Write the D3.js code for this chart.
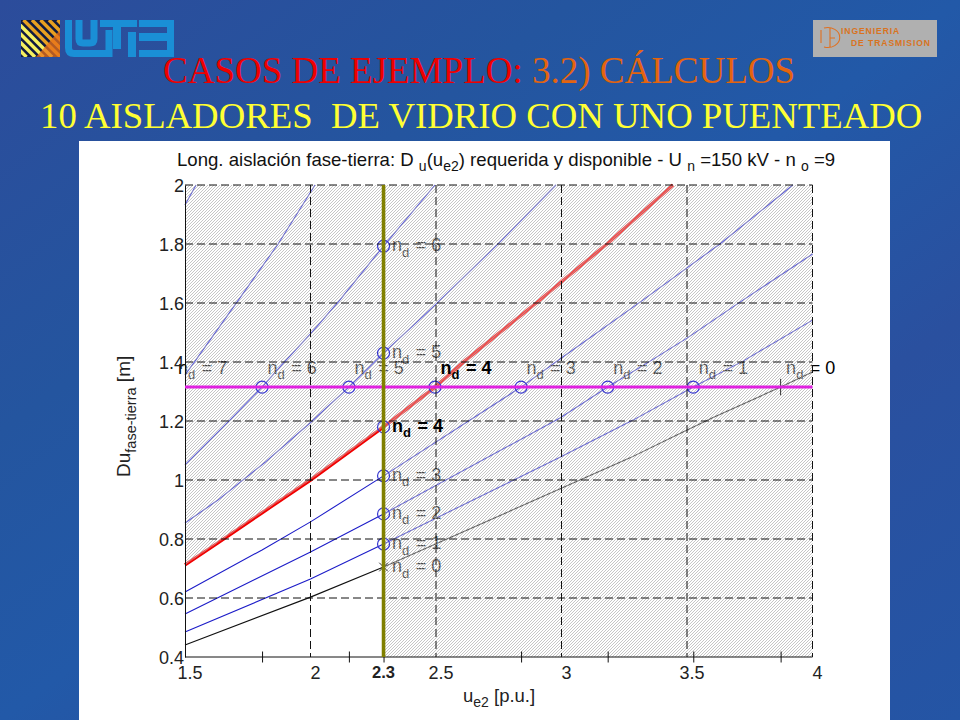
<!DOCTYPE html>
<html><head><meta charset="utf-8">
<script src="https://cdn.jsdelivr.net/npm/d3@7"></script>
<style>html,body{margin:0;padding:0;background:#26529f}svg{display:block}text{font-family:"Liberation Sans",Arial,sans-serif}</style>
</head><body><script>
const nd0=[[1.5,.441],[2,.603],[2.291,.705],[3.273,1.075],[3.484,1.163],[3.604,1.212],[3.873,1.315],[4,1.366]];
const nd1=[[1.5,.485],[2,.664],[2.291,.783],[2.996,1.078],[3.285,1.203],[3.525,1.315],[3.723,1.403],[4,1.542]];
const nd2=[[1.5,.546],[2,.756],[2.291,.885],[2.994,1.21],[3.184,1.315],[3.353,1.403],[3.5,1.481],[3.711,1.603],[4,1.766]];
const nd3=[[1.5,.62],[1.807,.763],[2,.858],[2.291,1.014],[2.839,1.315],[2.994,1.41],[3.313,1.603],[3.5,1.719],[3.631,1.8],[3.922,2]];
const nd4=[[1.5,.712],[1.631,.787],[1.807,.889],[2,1],[2.291,1.18],[2.496,1.315],[2.614,1.403],[2.914,1.61],[2.994,1.668],[3.181,1.8],[3.444,2]];
const nd5=[[1.5,.854],[1.631,.932],[1.819,1.06],[2,1.195],[2.153,1.315],[2.291,1.43],[2.496,1.593],[2.743,1.797],[2.978,2]];
const nd6=[[1.5,1.051],[1.679,1.203],[1.807,1.315],[1.899,1.403],[2,1.495],[2.11,1.603],[2.291,1.793],[2.496,2]];
const nd7=[[1.5,1.356],[1.54,1.403],[1.707,1.603],[1.871,1.8],[2.018,2]];
const nd8=[[1.5,1.932],[1.544,2]];
const blueCurves=[nd1,nd2,nd3,nd5,nd6,nd7,nd8];
const xTicks=[1.5,2,2.5,3,3.5,4];
const yTicks=[.4,.6,.8,1,1.2,1.4,1.6,1.8,2];
const crossTicks=[1.807,2.153,2.291,2.839,3.184,3.525,3.873];
const available=1.315, selectedU=2.291, selectedLabel="2.3";
const rowN=[7,6,5,4,3,2,1,0];
const rowU=[1.45,1.807,2.153,2.496,2.839,3.184,3.525,3.873];
const colN=[6,5,4,3,2,1,0];
const colV=[1.793,1.43,1.18,1.014,.885,.783,.705];

const W=960,H=720;
const svg=d3.select("body").append("svg").attr("width",W).attr("height",H);
const defs=svg.append("defs");
const bg=defs.append("linearGradient").attr("id","bg").attr("x1",0).attr("y1",0).attr("x2",1).attr("y2",1);
[[0,"#2c4c9b"],[.3,"#24559f"],[.5,"#2259a8"],[.72,"#2a509f"],[1,"#2455a5"]].forEach(d=>bg.append("stop").attr("offset",d[0]).attr("stop-color",d[1]));
const ha=defs.append("pattern").attr("id","hatch").attr("patternUnits","userSpaceOnUse").attr("width",3).attr("height",3);
ha.append("rect").attr("width",3).attr("height",3).attr("fill","rgba(255,255,255,.3)");
ha.append("path").attr("d","M-1 4L4 -1M-1 1L1 -1M2 4L4 2").attr("stroke","#a2a2a2").attr("stroke-width",.62).attr("fill","none");
svg.append("rect").attr("width",W).attr("height",H).attr("fill","url(#bg)");

// heading
const h1=svg.append("text").attr("x",163).attr("y",83).attr("font-size",37).attr("style","font-family:'Liberation Serif',serif");
h1.append("tspan").attr("fill","#ee0000").text("CASOS DE EJEMPLO:");
h1.append("tspan").attr("fill","#e4640f").text(" 3.2) CÁLCULOS");
svg.append("text").attr("x",40).attr("y",128).attr("font-size",36.75).attr("fill","#ffff33").attr("style","font-family:'Liberation Serif',serif;white-space:pre").text("10 AISLADORES  DE VIDRIO CON UNO PUENTEADO");

// UTE logo
defs.append("clipPath").attr("id","lg").append("rect").attr("x",21).attr("y",20).attr("width",39).attr("height",37);
const lg=svg.append("g").attr("clip-path","url(#lg)");
lg.append("rect").attr("x",21).attr("y",20).attr("width",39).attr("height",37).attr("fill","#101a40");
d3.range(-40,50,8.5).forEach(o=>lg.append("line").attr("x1",21+o).attr("y1",20).attr("x2",21+o+37).attr("y2",57).attr("stroke",o>-5?"#e8a020":"#f5f060").attr("stroke-width",3.4));
lg.append("path").attr("d","M60 30L60 57L36 57Z").attr("fill","#e8701a").attr("opacity",.75);
const blue="#1a8fd6";
const logo=svg.append("g");
logo.append("path").attr("d","M68.5 20V48q0 5.5 5.5 5.5H109V30").attr("fill","none").attr("stroke",blue).attr("stroke-width",7);
logo.append("path").attr("d","M79 20V39q0 4 4 4h7q4 0 4-4V20").attr("fill","none").attr("stroke",blue).attr("stroke-width",7);
[[100,20,37,7],[113,20,8,29],[128,32,8,25],[139,20,35,7],[139,33,35,8],[139,50,35,7],[167,20,7,37]].forEach(r=>logo.append("rect").attr("x",r[0]).attr("y",r[1]).attr("width",r[2]).attr("height",r[3]).attr("fill",blue));

// ID logo
svg.append("rect").attr("x",813).attr("y",20).attr("width",124).attr("height",37).attr("fill","#b0b0b0");
svg.append("path").attr("d","M824 28a12 10 0 1 1 0 19M830 28v19M830 38h5M821 30v13").attr("fill","none").attr("stroke","#e07020").attr("stroke-width",1.1);
svg.append("text").attr("x",841).attr("y",34).attr("font-size",8.6).attr("font-weight","bold").attr("fill","#d9731e").attr("letter-spacing",.9).text("INGENIERIA");
svg.append("text").attr("x",851).attr("y",46).attr("font-size",8.6).attr("font-weight","bold").attr("fill","#d9731e").attr("letter-spacing",.9).text("DE TRASMISION");

// white panel
svg.append("rect").attr("x",79).attr("y",141).attr("width",811).attr("height",579).attr("fill","#fff");

const x=d3.scaleLinear().domain([1.5,4]).range([185,812.5]);
const y=d3.scaleLinear().domain([.4,2]).range([657,185]);
const line=d3.line().x(d=>x(d[0])).y(d=>y(d[1]));

function nLabel(g,px,py,n,bold,fill){
  const t=g.append("text").attr("x",px).attr("y",py).attr("font-size",18).attr("fill",fill||"#000").attr("font-weight",bold?"bold":null).attr("style","white-space:pre");
  t.append("tspan").text("n");
  t.append("tspan").attr("font-size",13).attr("dy",5.5).text("d");
  t.append("tspan").attr("dy",-5.5).attr("dx",1.5).text(" = "+n);
}
// curves and labels under the hatch
const under=svg.append("g");
blueCurves.forEach(c=>under.append("path").attr("d",line(c)).attr("fill","none").attr("stroke","#1c1cc8").attr("stroke-width",1.1));
under.append("path").attr("d",line(nd0)).attr("fill","none").attr("stroke","#111").attr("stroke-width",1.1);
under.append("path").attr("d",line(nd4)).attr("fill","none").attr("stroke","#f00000").attr("stroke-width",3.4);
rowN.forEach((n,i)=>{ if(n!==4) nLabel(under,x(rowU[i])+5.5,y(available)-13.5,n,false); });
colN.forEach((n,i)=>{ if(n!==4) nLabel(under,x(selectedU)+8.5,y(colV[i])+5,n,false); });

// hatched zone: all of the plot outside the feasible corner under the nd=4 curve
const boundary=nd4.filter(d=>d[0]<=selectedU);
const corner=[[1.5,2],...boundary,[selectedU,.4],[4,.4],[4,2]];
svg.append("path").attr("d",line(corner)+"Z").attr("fill","url(#hatch)");

// circles, and the small marks of the nd=0 curve
const mk=svg.append("g").attr("fill","none").attr("stroke","#3838d0").attr("stroke-width",1.2);
rowU.forEach((u,i)=>{ if(rowN[i]>0 && rowN[i]<7) mk.append("circle").attr("cx",x(u)).attr("cy",y(available)).attr("r",6);});
colV.forEach((v,i)=>{ if(colN[i]>0) mk.append("circle").attr("cx",x(selectedU)).attr("cy",y(v)).attr("r",6);});
const sy=svg.append("g").attr("fill","none").attr("stroke","#333").attr("stroke-width",1);
sy.append("path").attr("d",d3.symbol(d3.symbolTimes,50)()).attr("transform",`translate(${x(selectedU)},${y(colV[6])})`);
sy.append("path").attr("d",d3.symbol(d3.symbolPlus,90)()).attr("fill","none").attr("transform",`translate(${x(rowU[7])},${y(available)})`);

// grid
const grid=svg.append("g").attr("stroke","#111").attr("stroke-width",1).attr("stroke-dasharray","8 4").attr("fill","none");
xTicks.slice(1).forEach(t=>grid.append("line").attr("x1",x(t)).attr("x2",x(t)).attr("y1",y(2)).attr("y2",y(.4)));
yTicks.slice(1).forEach(t=>grid.append("line").attr("x1",x(1.5)).attr("x2",x(4)).attr("y1",y(t)).attr("y2",y(t)));

// bold labels, on top
rowN.forEach((n,i)=>{ if(n===4) nLabel(svg,x(rowU[i])+5.5,y(available)-13.5,n,true,"#000"); });
colN.forEach((n,i)=>{ if(n===4) nLabel(svg,x(selectedU)+8.5,y(colV[i])+5,n,true,"#000"); });

// axes
const axG=svg.append("g").attr("transform",`translate(0,${y(.4)})`).call(d3.axisBottom(x).tickValues(crossTicks).tickSize(5.5).tickFormat(""));
axG.selectAll(".tick line").attr("y1",-5.5).attr("stroke","#111");
axG.select(".domain").attr("stroke","#111").attr("d",`M${x(1.5)},0H${x(4)}`);
const ayG=svg.append("g").attr("transform",`translate(${x(1.5)},0)`).call(d3.axisLeft(y).tickValues(yTicks).tickSize(0).tickFormat(""));
ayG.select(".domain").attr("stroke","#111");

svg.append("g").selectAll("text").data(yTicks).join("text").attr("x",184).attr("y",d=>y(d)+6.5).attr("text-anchor","end").attr("font-size",18).attr("fill","#222").text(d=>d3.format("~g")(d));
svg.append("g").selectAll("text").data(xTicks).join("text").attr("x",d=>x(d)+5).attr("y",679).attr("text-anchor","middle").attr("font-size",18).attr("fill","#222").text(d=>d);
svg.append("text").attr("x",x(selectedU)).attr("y",678).attr("text-anchor","middle").attr("font-size",16.5).attr("font-weight","bold").attr("fill","#222").text(selectedLabel);

// reference lines
svg.append("line").attr("x1",x(1.5)).attr("x2",x(4)).attr("y1",y(available)).attr("y2",y(available)).attr("stroke","#e020e0").attr("stroke-width",3);
svg.append("line").attr("x1",x(selectedU)).attr("x2",x(selectedU)).attr("y1",y(2)).attr("y2",y(.4)).attr("stroke","#808000").attr("stroke-width",3.6);

// chart title
const ti=svg.append("text").attr("x",177).attr("y",166).attr("font-size",18.6).attr("fill","#111").attr("style","white-space:pre");
ti.append("tspan").text("Long. aislación fase-tierra: D ");
ti.append("tspan").attr("font-size",14).attr("dy",5).text("u");
ti.append("tspan").attr("dy",-5).text("(u");
ti.append("tspan").attr("font-size",14).attr("dy",5).text("e2");
ti.append("tspan").attr("dy",-5).text(") requerida y disponible - U ");
ti.append("tspan").attr("font-size",14).attr("dy",5).text("n");
ti.append("tspan").attr("dy",-5).text(" =150 kV - n ");
ti.append("tspan").attr("font-size",14).attr("dy",5).text("o");
ti.append("tspan").attr("dy",-5).text(" =9");

// axis titles
const xt=svg.append("text").attr("x",463).attr("y",702).attr("font-size",18.5).attr("fill","#222").attr("style","white-space:pre");
xt.append("tspan").text("u");
xt.append("tspan").attr("font-size",14).attr("dy",5).text("e2");
xt.append("tspan").attr("dy",-5).text(" [p.u.]");
const yt=svg.append("text").attr("transform","translate(130,477) rotate(-90)").attr("font-size",19).attr("fill","#222").attr("style","white-space:pre");
yt.append("tspan").text("Du");
yt.append("tspan").attr("font-size",14.5).attr("dy",6).text("fase-tierra");
yt.append("tspan").attr("dy",-6).text(" [m]");
</script></body></html>
